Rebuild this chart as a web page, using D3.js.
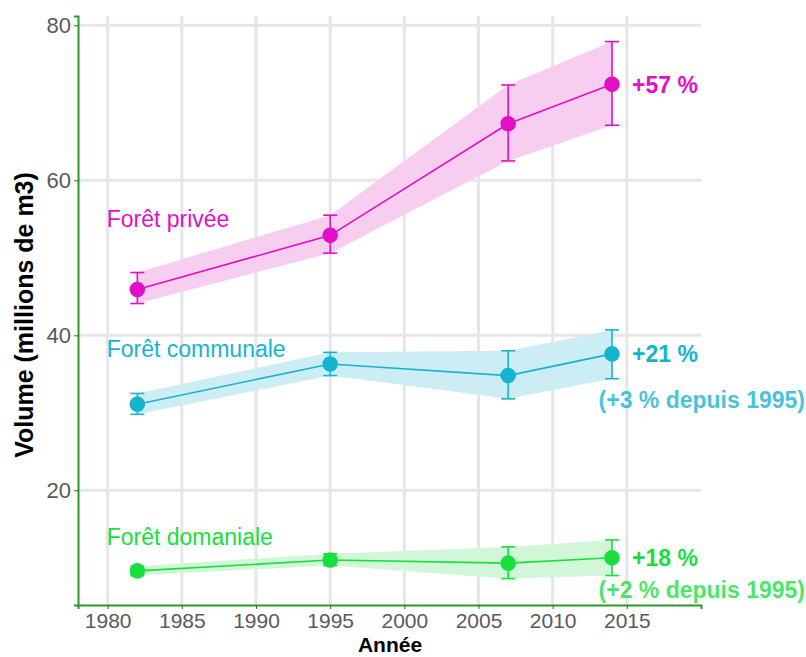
<!DOCTYPE html>
<html lang="fr">
<head>
<meta charset="UTF-8">
<title>Volume</title>
<script src="https://cdnjs.cloudflare.com/ajax/libs/d3/7.8.5/d3.min.js"></script>
<style>
  body { margin: 0; background: #fff; }
  svg text { font-family: "Liberation Sans", Arial, sans-serif; }
  .grid line { stroke: #e6e6e6; stroke-width: 3; }
  .tick text { fill: #5a5a5a; }
</style>
</head>
<body>
<svg id="chart" width="806" height="657"></svg>
<script>
// Data
const years = [1982, 1995, 2007, 2014];
const xTicks = [1980, 1985, 1990, 1995, 2000, 2005, 2010, 2015];
const yTicks = [20, 40, 60, 80];

const priveeMean = [45.9, 52.9, 67.3, 72.4];
const priveeLow  = [44.1, 50.6, 62.5, 67.1];
const priveeHigh = [48.1, 55.5, 72.3, 77.9];

const communaleMean = [31.1, 36.3, 34.8, 37.6];
const communaleLow  = [29.8, 34.8, 31.8, 34.4];
const communaleHigh = [32.5, 37.8, 38.0, 40.7];

const domanialeMean = [9.6, 11.0, 10.6, 11.3];
const domanialeLow  = [9.0, 10.3, 8.6, 9.0];
const domanialeHigh = [10.2, 11.8, 12.7, 13.6];

const series = [
  { name: 'Forêt privée', mean: priveeMean, low: priveeLow, high: priveeHigh,
    color: '#e20fc7', band: '#f7cdf0', labelY: 227,
    notes: ['+57 %'], noteY: [93] },
  { name: 'Forêt communale', mean: communaleMean, low: communaleLow, high: communaleHigh,
    color: '#14b4d1', band: '#cdedf4', labelY: 357,
    notes: ['+21 %', '(+3 % depuis 1995)'], noteY: [362, 408] },
  { name: 'Forêt domaniale', mean: domanialeMean, low: domanialeLow, high: domanialeHigh,
    color: '#18df3d', band: '#d2f7d8', labelY: 545,
    notes: ['+18 %', '(+2 % depuis 1995)'], noteY: [566, 598] }
];

const svg = d3.select('#chart');
const m = { left: 78, right: 701, top: 16, bottom: 605 };

const x = d3.scaleLinear().domain([1978, 2020]).range([m.left, m.right]);
const y = d3.scaleLinear().domain([5.2, 81.2]).range([m.bottom, m.top]);

// grid
const grid = svg.append('g').attr('class', 'grid');
grid.selectAll('.gx').data(xTicks).enter().append('line')
  .attr('x1', d => x(d)).attr('x2', d => x(d))
  .attr('y1', m.top).attr('y2', m.bottom);
grid.selectAll('.gy').data(yTicks).enter().append('line')
  .attr('x1', m.left).attr('x2', m.right)
  .attr('y1', d => y(d)).attr('y2', d => y(d));

// bands, lines, error bars, points
series.forEach(s => {
  const rows = years.map((yr, i) => ({ yr, v: s.mean[i], lo: s.low[i], hi: s.high[i] }));
  const g = svg.append('g');

  g.append('path').datum(rows)
    .attr('fill', s.band)
    .attr('d', d3.area().x(d => x(d.yr)).y0(d => y(d.lo)).y1(d => y(d.hi)));

  g.append('path').datum(rows)
    .attr('fill', 'none').attr('stroke', s.color).attr('stroke-width', 1.6)
    .attr('d', d3.line().x(d => x(d.yr)).y(d => y(d.v)));

  const eb = g.selectAll('.eb').data(rows).enter().append('g')
    .attr('stroke', s.color).attr('stroke-width', 1.6);
  eb.append('line')
    .attr('x1', d => x(d.yr)).attr('x2', d => x(d.yr))
    .attr('y1', d => y(d.lo)).attr('y2', d => y(d.hi));
  eb.append('line')
    .attr('x1', d => x(d.yr) - 7).attr('x2', d => x(d.yr) + 7)
    .attr('y1', d => y(d.lo)).attr('y2', d => y(d.lo));
  eb.append('line')
    .attr('x1', d => x(d.yr) - 7).attr('x2', d => x(d.yr) + 7)
    .attr('y1', d => y(d.hi)).attr('y2', d => y(d.hi));

  g.selectAll('circle').data(rows).enter().append('circle')
    .attr('cx', d => x(d.yr)).attr('cy', d => y(d.v)).attr('r', 7.8)
    .attr('fill', s.color);

  // series label
  g.append('text')
    .attr('x', x(1980) - 1).attr('y', s.labelY)
    .attr('fill', s.color).attr('font-size', 23)
    .text(s.name);

  // annotations
  s.notes.forEach((t, i) => {
    g.append('text')
      .attr('x', i === 0 ? 632 : 805)
      .attr('text-anchor', i === 0 ? 'start' : 'end')
      .attr('y', s.noteY[i])
      .attr('fill', s.color)
      .attr('fill-opacity', i === 0 ? 1 : 0.8)
      .attr('font-size', 23)
      .attr('font-weight', 'bold')
      .text(t);
  });
});

// axes
const xAxis = svg.append('g')
  .attr('transform', `translate(0,${m.bottom})`)
  .call(d3.axisBottom(x).tickValues(xTicks).tickSize(4).tickFormat(d3.format('d')));
const yAxis = svg.append('g')
  .attr('transform', `translate(${m.left},0)`)
  .call(d3.axisLeft(y).tickValues(yTicks).tickSize(4));

[xAxis, yAxis].forEach(a => {
  a.select('.domain').attr('stroke', '#2a9a2a').attr('stroke-width', 2);
  a.selectAll('.tick line').attr('stroke', '#555');
  a.selectAll('.tick text').attr('font-size', 22);
});
xAxis.selectAll('.tick text').attr('font-size', 21).attr('y', 23).attr('dy', 0);

// axis titles
svg.append('text')
  .attr('x', 390).attr('y', 652)
  .attr('text-anchor', 'middle').attr('font-size', 21).attr('font-weight', 'bold')
  .text('Année');
svg.append('text')
  .attr('transform', 'translate(33,315) rotate(-90)')
  .attr('text-anchor', 'middle')
  .attr('font-size', 25).attr('font-weight', 'bold')
  .text('Volume (millions de m3)');
</script>
</body>
</html>
